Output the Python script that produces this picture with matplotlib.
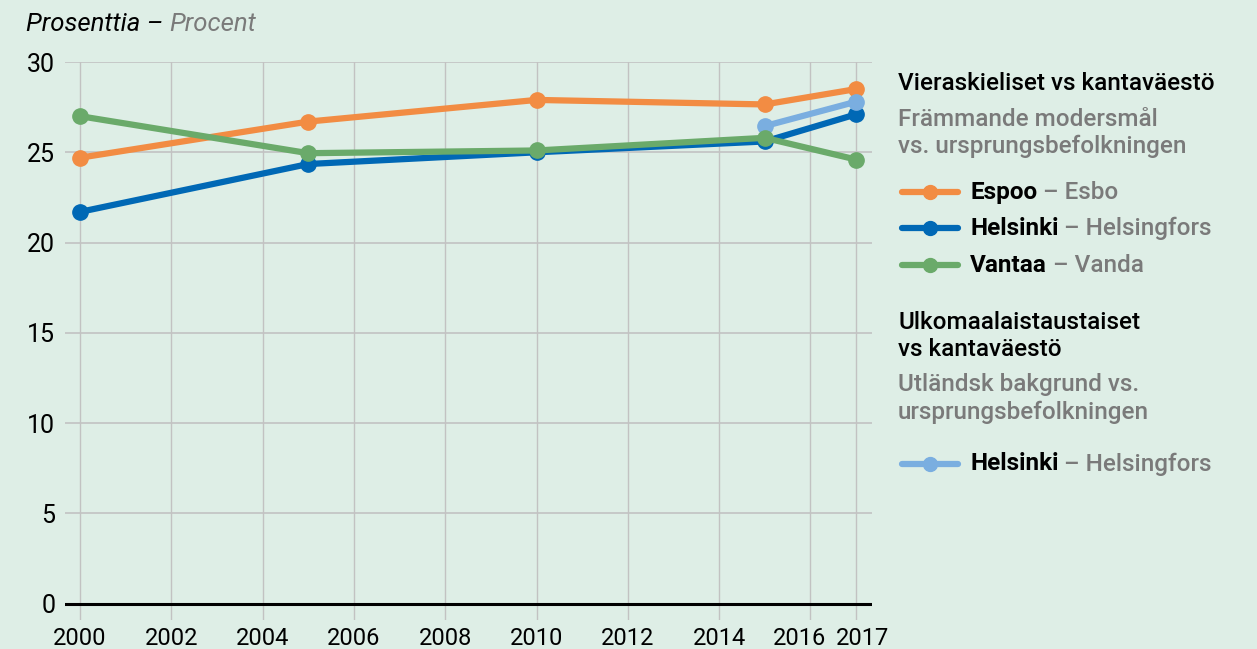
import matplotlib
matplotlib.use("Agg")
import matplotlib.pyplot as plt
from matplotlib.lines import Line2D
from matplotlib import font_manager as fm
from matplotlib.transforms import ScaledTranslation

# ---- data ----
years = [2000, 2005, 2010, 2015, 2017]
espoo = [24.7, 26.7, 27.9, 27.65, 28.5]
helsinki = [21.7, 24.35, 25.0, 25.6, 27.1]
vantaa = [27.0, 24.95, 25.1, 25.8, 24.6]
years_bg = [2015, 2017]
helsinki_bg = [26.45, 27.8]
xticks = [2000, 2002, 2004, 2006, 2008, 2010, 2012, 2014, 2016, 2017]
yticks = [0, 5, 10, 15, 20, 25, 30]

# ---- style ----
BG = "#deeee6"
C_ESP = "#f28c43"
C_HEL = "#0068b5"
C_VAN = "#6aaa6a"
C_HBG = "#7aaee0"
GREY = "#7a7a7a"
GRID = "#c2c2c2"

avail = {f.name for f in fm.fontManager.ttflist}
FONT = "Roboto" if "Roboto" in avail else "DejaVu Sans"
plt.rcParams['font.family'] = [FONT, 'DejaVu Sans']

W, H = 1257, 649
fig = plt.figure(figsize=(W / 100, H / 100), dpi=100, facecolor=BG)

# axes: x pixels 65..872, y pixels 62..620
ax = fig.add_axes([65 / W, 1 - 620 / H, (872 - 65) / W, (620 - 62) / H], facecolor=BG)
ax.set_xlim(1999.67, 2017.35)
ax.set_ylim(-0.9, 30)
for s in ax.spines.values():
    s.set_visible(False)

for x in xticks:
    ax.axvline(x, color=GRID, lw=1, zorder=1)
for y in yticks[1:]:
    ax.axhline(y, color=GRID, lw=1.2, zorder=1)
ax.axhline(0, color="black", lw=2.2, zorder=2)

lw = 4.5
ms = 11
for xs, ys, c in [(years, espoo, C_ESP), (years, helsinki, C_HEL),
                  (years_bg, helsinki_bg, C_HBG), (years, vantaa, C_VAN)]:
    ax.plot(xs, ys, color=c, lw=lw, marker="o", ms=ms, zorder=3,
            solid_capstyle="round")

ax.set_xticks(xticks)
ax.set_xticklabels([str(x) for x in xticks], fontsize=17)
ax.set_yticks(yticks)
ax.set_yticklabels([str(y) for y in yticks], fontsize=18)
ax.tick_params(axis="both", length=0, colors="black")
ax.tick_params(axis="x", pad=5)
ax.tick_params(axis="y", pad=7)

# nudge the crowded last two year labels apart
offsets = {"2016": -7.5, "2017": 4.5}
for lab in ax.get_xticklabels():
    dx = offsets.get(lab.get_text())
    if dx:
        lab.set_transform(lab.get_transform() +
                          ScaledTranslation(dx / 72, 0, fig.dpi_scale_trans))

fig.canvas.draw()
renderer = fig.canvas.get_renderer()


def rich(xp, yp, parts, size=17.5, style="normal"):
    """parts: list of (text, color, weight); xp, yp in pixels (top origin), va center."""
    x = xp
    for txt, col, wt in parts:
        t = fig.text(x / W, 1 - yp / H, txt, color=col, fontsize=size,
                     fontweight=wt, style=style, va="center", ha="left")
        bb = t.get_window_extent(renderer=renderer)
        x += bb.width


rich(26, 24, [("Prosenttia – ", "black", "normal"), ("Procent", GREY, "normal")],
     size=18.5, style="italic")

LX = 898
rich(LX, 84, [("Vieraskieliset vs kantaväestö", "black", "medium")])
rich(LX, 119, [("Främmande modersmål", GREY, "medium")])
rich(LX, 146, [("vs. ursprungsbefolkningen", GREY, "medium")])


def legend_entry(yp, color, bold, rest):
    ln = Line2D([902 / W, 958 / W], [1 - yp / H] * 2, transform=fig.transFigure,
                color=color, lw=lw, solid_capstyle="round")
    fig.add_artist(ln)
    mk = Line2D([930 / W], [1 - yp / H], transform=fig.transFigure,
                color=color, marker="o", ms=10, lw=0)
    fig.add_artist(mk)
    rich(970, yp, [(bold, "black", "bold"), (rest, GREY, "medium")])


legend_entry(192, C_ESP, "Espoo", " – Esbo")
legend_entry(228, C_HEL, "Helsinki", " – Helsingfors")
legend_entry(265, C_VAN, "Vantaa", " – Vanda")

rich(LX, 323, [("Ulkomaalaistaustaiset", "black", "medium")])
rich(LX, 350, [("vs kantaväestö", "black", "medium")])
rich(LX, 385, [("Utländsk bakgrund vs.", GREY, "medium")])
rich(LX, 412, [("ursprungsbefolkningen", GREY, "medium")])
legend_entry(464, C_HBG, "Helsinki", " – Helsingfors")

fig.savefig("out.png", dpi=100, facecolor=BG)
